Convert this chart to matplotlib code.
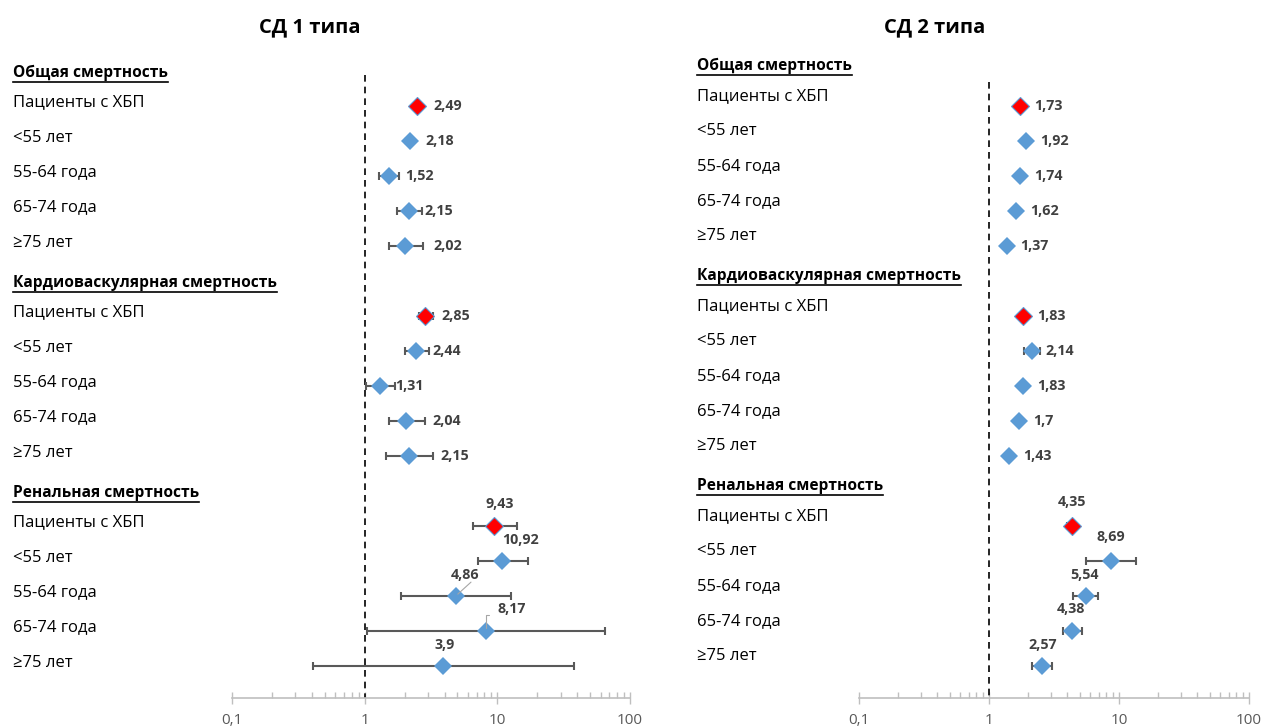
import matplotlib
matplotlib.use("Agg")
import matplotlib.pyplot as plt
from matplotlib.lines import Line2D
from matplotlib.transforms import blended_transform_factory

plt.rcParams['font.family'] = ['Open Sans', 'DejaVu Sans']

# --- data ---
titles = ['СД 1 типа', 'СД 2 типа']
groups = ['Общая смертность', 'Кардиоваскулярная смертность', 'Ренальная смертность']
rows = ['Пациенты с ХБП', '<55 лет', '55-64 года', '65-74 года', '≥75 лет']

t1_hr = [2.49, 2.18, 1.52, 2.15, 2.02, 2.85, 2.44, 1.31, 2.04, 2.15, 9.43, 10.92, 4.86, 8.17, 3.9]
t1_lo = [2.35, 2.05, 1.29, 1.74, 1.52, 2.55, 2.02, 1.03, 1.52, 1.44, 6.6, 7.2, 1.88, 1.04, 0.41]
t1_hi = [2.65, 2.32, 1.80, 2.70, 2.75, 3.30, 3.08, 1.70, 2.85, 3.30, 14.0, 17.1, 12.7, 65.0, 38.0]

t2_hr = [1.73, 1.92, 1.74, 1.62, 1.37, 1.83, 2.14, 1.83, 1.7, 1.43, 4.35, 8.69, 5.54, 4.38, 2.57]
t2_lo = [1.66, 1.84, 1.70, 1.58, 1.33, 1.77, 1.86, 1.79, 1.66, 1.39, 4.0, 5.6, 4.4, 3.7, 2.13]
t2_hi = [1.80, 2.00, 1.78, 1.66, 1.41, 1.89, 2.45, 1.87, 1.74, 1.47, 4.7, 13.5, 6.9, 5.2, 3.05]

# value-label offsets in points: right of marker (first two groups), above (renal)
t1_off = [(12, 0), (11.5, 0), (11.5, 0), (11, 0), (20, 0),
          (12, 0), (12, 0), (11, 0), (19.5, 0), (23, 0),
          (4, 11), (13, 10), (7, 10), (19, 11), (1, 10)]
t2_off = [(10, 0)] * 10 + [(0, 12), (0, 12), (-1, 10), (-1, 11), (0, 10)]

W, H = 1261, 727
fig = plt.figure(figsize=(W / 100, H / 100), dpi=100)

# row positions: 5 rows per group, one blank row between groups
ypos = []
for g in range(len(groups)):
    ypos += [g * 6 + i for i in range(len(rows))]

blue = '#5b9bd5'
dark = '#595959'
label_col = '#404040'
grid_col = '#bfbfbf'

panels = [
    dict(x0=232, x1=630, hr=t1_hr, lo=t1_lo, hi=t1_hi, off=t1_off,
         text_x=13, lab_dy=-0.1, head_dy=0.05, vtop=-0.88, title_x=310),
    dict(x0=859, x1=1249, hr=t2_hr, lo=t2_lo, hi=t2_hi, off=t2_off,
         text_x=697, lab_dy=-0.28, head_dy=-0.15, vtop=-0.68, title_x=935),
]

y_top_px, y_bot_px, row0_px, row_step = 50, 698, 106, 35.0
ylim_top = (y_top_px - row0_px) / row_step
ylim_bot = (y_bot_px - row0_px) / row_step

headers = []
for p, title in zip(panels, titles):
    ax = fig.add_axes([p['x0'] / W, 1 - y_bot_px / H, (p['x1'] - p['x0']) / W,
                       (y_bot_px - y_top_px) / H])
    ax.set_xscale('log')
    ax.set_xlim(0.1, 100)
    ax.set_ylim(ylim_bot, ylim_top)
    for s in ['left', 'right', 'top']:
        ax.spines[s].set_visible(False)
    ax.spines['bottom'].set_color(grid_col)
    ax.spines['bottom'].set_linewidth(1.2)
    ax.set_yticks([])
    ax.set_xticks([0.1, 1, 10, 100])
    ax.set_xticklabels(['0,1', '1', '10', '100'])
    ax.tick_params(axis='x', which='major', direction='inout', length=9, width=1,
                   color=grid_col, labelsize=11, labelcolor=dark, pad=6)
    ax.tick_params(axis='x', which='minor', direction='in', length=4, width=1,
                   color=grid_col)
    ax.tick_params(axis='x', which='minor', labelbottom=False)

    ax.vlines(1, p['vtop'], ylim_bot, colors='black', linestyles=(0, (4, 3)), lw=1.2)

    hr, lo, hi = p['hr'], p['lo'], p['hi']
    for i, (y, v, l, h) in enumerate(zip(ypos, hr, lo, hi)):
        ax.errorbar(v, y, xerr=[[v - l], [h - v]], fmt='none', ecolor=dark,
                    elinewidth=1.5, capsize=3, capthick=1.5, zorder=2)
        first = i % len(rows) == 0
        ax.plot(v, y, marker='D', ms=9, color='red' if first else blue,
                mec=blue, mew=0.8 if first else 0, zorder=3)
        txt = str(v).replace('.', ',')
        dx, dy = p['off'][i]
        if i // len(rows) < 2:
            ax.annotate(txt, (v, y), xytext=(dx, dy), textcoords='offset points',
                        ha='left', va='center', fontsize=10.3, fontweight='bold',
                        color=label_col)
        else:
            ax.annotate(txt, (v, y), xytext=(dx, dy), textcoords='offset points',
                        ha='center', va='bottom', fontsize=10.3, fontweight='bold',
                        color=label_col)

    tr = blended_transform_factory(fig.transFigure, ax.transData)
    for g, gname in enumerate(groups):
        t = ax.text(p['text_x'] / W, g * 6 - 1 + p['head_dy'], gname, transform=tr,
                    ha='left', va='center', fontsize=11.2, fontweight='bold',
                    color='black')
        headers.append(t)
        for r, rname in enumerate(rows):
            ax.text(p['text_x'] / W, g * 6 + r + p['lab_dy'], rname, transform=tr,
                    ha='left', va='center', fontsize=12, color='black')

    fig.text(p['title_x'] / W, 1 - 27 / H, title, ha='center', va='center',
             fontsize=14.5, fontweight='bold')

# leader lines for the two offset renal labels of the left panel
ax1 = fig.axes[0]
ax1.annotate('', xy=(t1_hr[12], ypos[12]), xytext=(t1_hr[12] * 1.35, ypos[12] - 0.45),
             arrowprops=dict(arrowstyle='-', color='#a6a6a6', lw=0.8))
ax1.annotate('', xy=(t1_hr[13], ypos[13]), xytext=(t1_hr[13] * 1.12, ypos[13] - 0.45),
             arrowprops=dict(arrowstyle='-', color='#a6a6a6', lw=0.8,
                             connectionstyle='angle,angleA=0,angleB=90,rad=0'))

# underline the group headers
fig.canvas.draw()
rend = fig.canvas.get_renderer()
for t in headers:
    bb = t.get_window_extent(rend)
    yy = bb.y0 - 1
    fig.add_artist(Line2D([bb.x0 / W, bb.x1 / W], [yy / H, yy / H], color='black',
                          lw=1.2, transform=fig.transFigure))

fig.savefig('out.png', dpi=100)
